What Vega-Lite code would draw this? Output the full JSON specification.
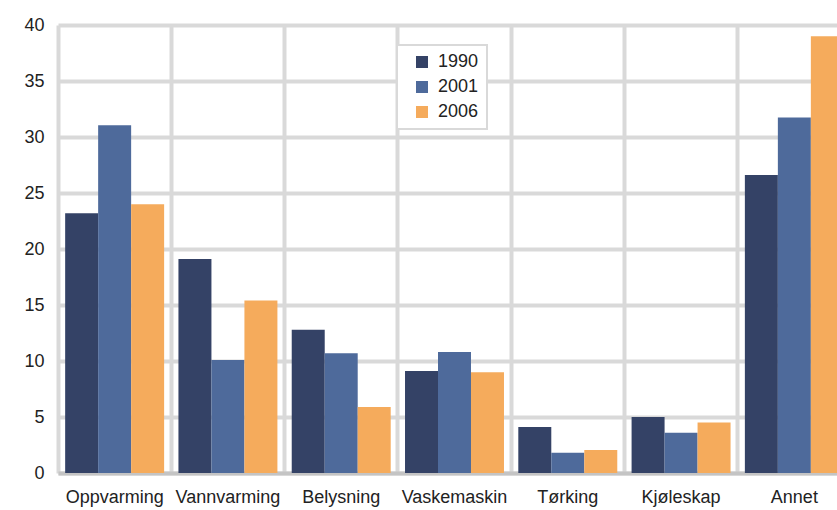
{
  "$schema": "https://vega.github.io/schema/vega-lite/v6.json",
  "width": 779,
  "height": 448,
  "autosize": {"type": "none"},
  "padding": {"left": 58, "top": 25, "right": 0, "bottom": 37},
  "background": "white",
  "config": {
    "view": {"stroke": null},
    "font": "Liberation Sans",
    "axis": {"labelFont": "Liberation Sans", "labelColor": "#222222", "ticks": false, "title": null}
  },
  "data": {
    "values": [
      {"kategori": "Oppvarming", "aar": "1990", "verdi": 23.2},
      {"kategori": "Oppvarming", "aar": "2001", "verdi": 31.05},
      {"kategori": "Oppvarming", "aar": "2006", "verdi": 24.0},
      {"kategori": "Vannvarming", "aar": "1990", "verdi": 19.1},
      {"kategori": "Vannvarming", "aar": "2001", "verdi": 10.1},
      {"kategori": "Vannvarming", "aar": "2006", "verdi": 15.4},
      {"kategori": "Belysning", "aar": "1990", "verdi": 12.8},
      {"kategori": "Belysning", "aar": "2001", "verdi": 10.7},
      {"kategori": "Belysning", "aar": "2006", "verdi": 5.9},
      {"kategori": "Vaskemaskin", "aar": "1990", "verdi": 9.1},
      {"kategori": "Vaskemaskin", "aar": "2001", "verdi": 10.8},
      {"kategori": "Vaskemaskin", "aar": "2006", "verdi": 9.0},
      {"kategori": "Tørking", "aar": "1990", "verdi": 4.1},
      {"kategori": "Tørking", "aar": "2001", "verdi": 1.8},
      {"kategori": "Tørking", "aar": "2006", "verdi": 2.05},
      {"kategori": "Kjøleskap", "aar": "1990", "verdi": 5.0},
      {"kategori": "Kjøleskap", "aar": "2001", "verdi": 3.6},
      {"kategori": "Kjøleskap", "aar": "2006", "verdi": 4.5},
      {"kategori": "Annet", "aar": "1990", "verdi": 26.6},
      {"kategori": "Annet", "aar": "2001", "verdi": 31.75},
      {"kategori": "Annet", "aar": "2006", "verdi": 39.0}
    ]
  },
  "mark": {"type": "bar"},
  "encoding": {
    "x": {
      "field": "kategori",
      "type": "nominal",
      "sort": null,
      "scale": {"range": [0, 793], "paddingInner": 0, "paddingOuter": 0},
      "axis": {
        "labelAngle": 0,
        "labelFontSize": 18,
        "labelPadding": 15,
        "grid": true,
        "bandPosition": 0,
        "gridColor": "#d9d9d9",
        "gridWidth": 4,
        "domainColor": "#c4c4c4",
        "domainWidth": 4
      }
    },
    "xOffset": {
      "field": "aar",
      "type": "nominal",
      "scale": {"paddingInner": 0, "paddingOuter": 0.217}
    },
    "y": {
      "field": "verdi",
      "type": "quantitative",
      "scale": {"domain": [0, 40], "nice": false},
      "axis": {
        "values": [0, 5, 10, 15, 20, 25, 30, 35, 40],
        "labelFontSize": 18,
        "labelPadding": 14,
        "domain": false,
        "grid": true,
        "gridColor": "#d9d9d9",
        "gridWidth": 4
      }
    },
    "color": {
      "field": "aar",
      "type": "nominal",
      "scale": {"domain": ["1990", "2001", "2006"], "range": ["#344266", "#4e6a9b", "#f5ab5c"]},
      "legend": {
        "title": null,
        "orient": "none",
        "legendX": 339,
        "legendY": 20,
        "padding": 8,
        "symbolType": "square",
        "symbolSize": 144,
        "symbolStrokeWidth": 0,
        "symbolOffset": 8,
        "labelFontSize": 18,
        "labelColor": "#222222",
        "labelOffset": 7,
        "rowPadding": 7,
        "labelExpr": "datum.label + '\u00a0\u00a0'",
        "strokeColor": "#d9d9d9",
        "fillColor": "white",
        "encode": {"legend": {"update": {"strokeWidth": {"value": 2}}}}
      }
    }
  }
}
